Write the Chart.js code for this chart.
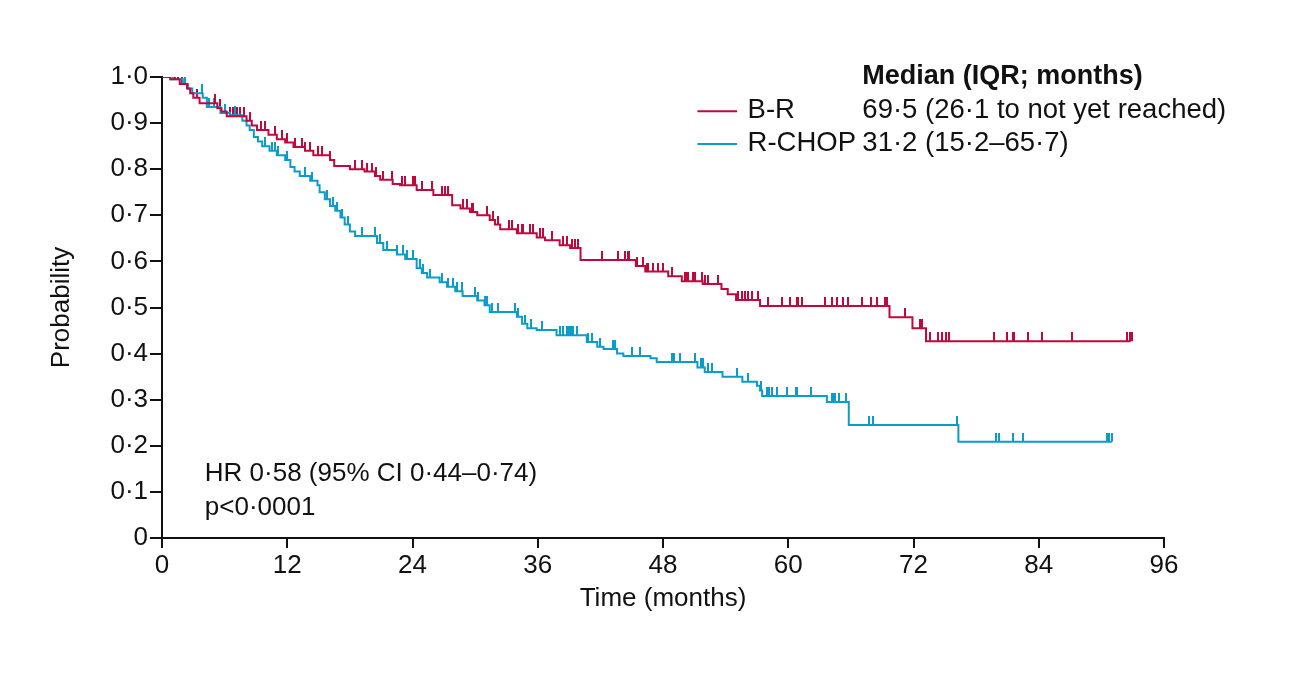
<!DOCTYPE html>
<html>
<head>
<meta charset="utf-8">
<script src="https://cdn.jsdelivr.net/npm/chart.js@4"></script>
<style>
  html, body { margin: 0; padding: 0; background: #fff; }
  #wrap { width: 1293px; height: 680px; }
</style>
</head>
<body>
<div id="wrap"><canvas id="kmChart" width="1293" height="680"></canvas></div>
<script>
// Kaplan-Meier steps: event time (months) and survival after the step
const brTimes = [0.8, 1.7, 2.4, 2.7, 3.0, 3.6, 5.3, 5.7, 6.2, 8.1, 8.6, 9.1, 10.2, 11.0, 11.8, 12.6, 13.7, 14.5, 16.1, 16.5, 18.0, 19.4, 20.4, 20.9, 22.1, 22.8, 24.4, 26.0, 27.8, 28.6, 29.5, 30.2, 31.4, 31.9, 32.4, 34.0, 35.9, 36.7, 38.1, 39.1, 40.1, 45.4, 46.3, 48.5, 49.8, 51.8, 53.6, 54.2, 55.0, 57.3, 69.7, 71.9, 73.2];
const brSurv = [0.995, 0.985, 0.975, 0.965, 0.955, 0.943, 0.932, 0.925, 0.915, 0.905, 0.895, 0.885, 0.875, 0.865, 0.858, 0.848, 0.84, 0.83, 0.82, 0.807, 0.8, 0.795, 0.785, 0.777, 0.768, 0.765, 0.755, 0.744, 0.722, 0.715, 0.707, 0.7, 0.69, 0.68, 0.67, 0.661, 0.652, 0.646, 0.635, 0.629, 0.603, 0.59, 0.578, 0.568, 0.557, 0.551, 0.54, 0.529, 0.516, 0.503, 0.479, 0.455, 0.427];
const brEnd = 92.8;
const brCensor = [0.1, 0.6, 1.2, 1.5, 1.9, 3.4, 5.1, 5.6, 6.5, 6.8, 7.2, 7.5, 7.9, 8.4, 9.5, 9.9, 10.8, 11.5, 12.0, 12.7, 13.4, 13.7, 14.2, 14.9, 15.3, 16.1, 18.5, 19.2, 19.6, 20.1, 20.5, 21.2, 22.0, 23.0, 23.3, 24.0, 24.2, 24.9, 25.9, 26.8, 27.1, 27.4, 28.8, 29.2, 29.7, 29.8, 31.1, 31.7, 32.2, 33.2, 33.5, 34.1, 34.5, 34.6, 35.3, 35.5, 36.2, 36.5, 37.4, 38.4, 38.8, 39.3, 39.6, 39.9, 42.2, 43.7, 44.4, 44.6, 44.7, 45.5, 46.1, 46.5, 46.6, 47.0, 47.5, 48.0, 48.9, 50.1, 50.3, 50.4, 50.9, 51.1, 51.7, 52.0, 52.3, 53.3, 55.2, 55.6, 55.9, 56.1, 56.5, 57.1, 58.1, 59.4, 60.2, 60.8, 60.9, 61.3, 63.5, 64.2, 64.7, 65.2, 65.7, 67.1, 67.9, 68.5, 69.3, 69.5, 71.2, 72.6, 72.8, 73.6, 74.3, 74.7, 75.1, 75.4, 79.7, 81.0, 81.5, 81.6, 83.0, 84.3, 87.2, 92.5, 92.7, 92.9];

const rcTimes = [0.8, 2.0, 2.5, 2.9, 3.9, 4.3, 5.6, 6.5, 7.7, 8.1, 8.4, 8.8, 9.2, 9.6, 10.3, 11.0, 11.8, 12.3, 12.7, 13.2, 14.2, 14.9, 15.1, 15.6, 16.1, 16.6, 17.1, 17.5, 18.0, 18.5, 20.6, 21.2, 22.5, 23.3, 24.4, 24.9, 25.4, 26.6, 27.3, 28.1, 28.8, 30.2, 30.9, 31.4, 34.0, 34.5, 35.0, 35.9, 37.8, 40.7, 41.7, 42.3, 43.6, 44.2, 46.8, 47.4, 51.3, 52.0, 53.7, 55.6, 57.0, 57.3, 57.5, 63.7, 65.8, 76.3];
const rcSurv = [0.995, 0.985, 0.975, 0.965, 0.955, 0.935, 0.922, 0.917, 0.905, 0.895, 0.885, 0.87, 0.86, 0.85, 0.84, 0.83, 0.82, 0.805, 0.795, 0.785, 0.775, 0.765, 0.75, 0.735, 0.72, 0.71, 0.695, 0.68, 0.665, 0.655, 0.64, 0.625, 0.615, 0.605, 0.585, 0.575, 0.565, 0.555, 0.545, 0.535, 0.525, 0.515, 0.505, 0.49, 0.48, 0.465, 0.455, 0.451, 0.44, 0.425, 0.415, 0.41, 0.4, 0.395, 0.39, 0.382, 0.37, 0.36, 0.35, 0.339, 0.33, 0.32, 0.308, 0.295, 0.245, 0.209];
const rcEnd = 91.0;
const rcCensor = [1.1, 2.2, 3.8, 4.5, 5.0, 6.0, 7.0, 9.9, 10.5, 10.8, 11.1, 12.0, 13.7, 14.4, 15.8, 16.4, 16.8, 17.2, 17.8, 19.2, 20.4, 20.9, 21.6, 22.5, 23.1, 23.5, 24.0, 24.7, 25.0, 25.7, 26.8, 27.4, 27.9, 28.3, 28.7, 30.0, 30.3, 30.9, 31.1, 31.6, 32.2, 33.8, 34.1, 34.8, 35.4, 36.4, 38.1, 38.4, 38.8, 38.9, 39.1, 39.3, 39.4, 39.8, 40.8, 41.2, 42.0, 43.2, 43.4, 45.0, 45.8, 48.9, 49.1, 49.6, 51.1, 51.6, 51.8, 52.3, 52.7, 55.1, 56.1, 57.4, 58.0, 58.2, 58.4, 58.9, 59.9, 60.7, 60.8, 62.2, 64.2, 64.3, 64.5, 64.9, 65.5, 67.7, 68.1, 76.2, 79.9, 80.2, 81.5, 82.5, 90.5, 90.7, 91.0];

const xTicks = [0, 12, 24, 36, 48, 60, 72, 84, 96];

const RED = '#C0083C';
const BLUE = '#0A9CCB';
const FONT = "'Liberation Sans', Arial, sans-serif";

function stepPoints(times, surv, end) {
  const pts = [{ x: 0, y: 1 }];
  times.forEach((t, i) => pts.push({ x: t, y: surv[i] }));
  pts.push({ x: end, y: surv[surv.length - 1] });
  return pts;
}

function survAt(times, surv, t) {
  let s = 1;
  for (let i = 0; i < times.length; i++) {
    if (times[i] <= t) s = surv[i];
  }
  return s;
}

function censorPoints(times, surv, cens) {
  return cens.map(t => ({ x: t, y: survAt(times, surv, t) }));
}

// upward tick used as censor mark
function tickMark(color) {
  const c = document.createElement('canvas');
  c.width = 2;
  c.height = 18;
  const g = c.getContext('2d');
  g.fillStyle = color;
  g.fillRect(0, 0, 2, 9);
  return c;
}

const textPlugin = {
  id: 'kmText',
  afterDraw(chart) {
    const ctx = chart.ctx;
    const x = chart.scales.x;
    const y = chart.scales.y;
    ctx.save();
    ctx.textBaseline = 'middle';
    ctx.textAlign = 'left';
    ctx.fillStyle = '#111';

    ctx.font = '26px ' + FONT;
    ctx.fillText('HR 0·58 (95% CI 0·44–0·74)', x.getPixelForValue(4.1), y.getPixelForValue(0.139));
    ctx.fillText('p<0·0001', x.getPixelForValue(4.1), y.getPixelForValue(0.065));

    ctx.font = 'bold 27px ' + FONT;
    ctx.fillText('Median (IQR; months)', x.getPixelForValue(67.1), y.getPixelForValue(1.0));

    const rows = [
      { name: 'B-R', val: '69·5 (26·1 to not yet reached)', color: RED, p: 0.928 },
      { name: 'R-CHOP', val: '31·2 (15·2–65·7)', color: BLUE, p: 0.857 }
    ];
    ctx.font = '27.5px ' + FONT;
    rows.forEach(r => {
      const py = y.getPixelForValue(r.p);
      ctx.strokeStyle = r.color;
      ctx.lineWidth = 2;
      ctx.beginPath();
      ctx.moveTo(x.getPixelForValue(51.3), py + 1);
      ctx.lineTo(x.getPixelForValue(55.1), py + 1);
      ctx.stroke();
      ctx.fillStyle = '#111';
      ctx.fillText(r.name, x.getPixelForValue(56.1), py);
      ctx.fillText(r.val, x.getPixelForValue(67.1), py);
    });
    ctx.restore();
  }
};

const ctx = document.getElementById('kmChart').getContext('2d');
const chart = new Chart(ctx, {
  type: 'line',
  data: {
    datasets: [
      {
        label: 'B-R',
        data: stepPoints(brTimes, brSurv, brEnd),
        borderColor: RED,
        borderWidth: 2,
        stepped: 'before',
        pointRadius: 0,
        fill: false
      },
      {
        label: 'R-CHOP',
        data: stepPoints(rcTimes, rcSurv, rcEnd),
        borderColor: BLUE,
        borderWidth: 2,
        stepped: 'before',
        pointRadius: 0,
        fill: false
      },
      {
        label: 'B-R censored',
        data: censorPoints(brTimes, brSurv, brCensor),
        showLine: false,
        pointStyle: tickMark(RED),
        pointRadius: 9
      },
      {
        label: 'R-CHOP censored',
        data: censorPoints(rcTimes, rcSurv, rcCensor),
        showLine: false,
        pointStyle: tickMark(BLUE),
        pointRadius: 9
      }
    ]
  },
  options: {
    responsive: false,
    animation: false,
    devicePixelRatio: 1,
    layout: {
      padding: { top: 77, right: 129, bottom: 0, left: 0 }
    },
    plugins: {
      legend: { display: false },
      tooltip: { enabled: false }
    },
    scales: {
      x: {
        type: 'linear',
        min: 0,
        max: 96,
        afterFit(scale) { scale.height = 142; },
        afterBuildTicks(scale) { scale.ticks = xTicks.map(v => ({ value: v })); },
        border: { color: '#111', width: 2 },
        grid: { drawOnChartArea: false, drawTicks: true, tickLength: 10, color: '#111', lineWidth: 2 },
        ticks: { color: '#111', font: { family: FONT, size: 26 }, padding: 2, maxRotation: 0 },
        title: { display: true, text: 'Time (months)', color: '#111', font: { family: FONT, size: 26 }, padding: { top: 0, bottom: 66 } }
      },
      y: {
        min: 0,
        max: 1,
        afterFit(scale) { scale.width = 162; },
        border: { color: '#111', width: 2 },
        grid: { drawOnChartArea: false, drawTicks: true, tickLength: 12, color: '#111', lineWidth: 2 },
        ticks: {
          stepSize: 0.1,
          color: '#111',
          padding: 2,
          font: { family: FONT, size: 26 },
          callback: v => (Math.abs(v) < 1e-9 ? '0' : v.toFixed(1).replace('.', '·'))
        },
        title: { display: true, text: 'Probability', color: '#111', font: { family: FONT, size: 26 }, padding: { top: 46, bottom: 0 } }
      }
    }
  },
  plugins: [textPlugin]
});
</script>
</body>
</html>
